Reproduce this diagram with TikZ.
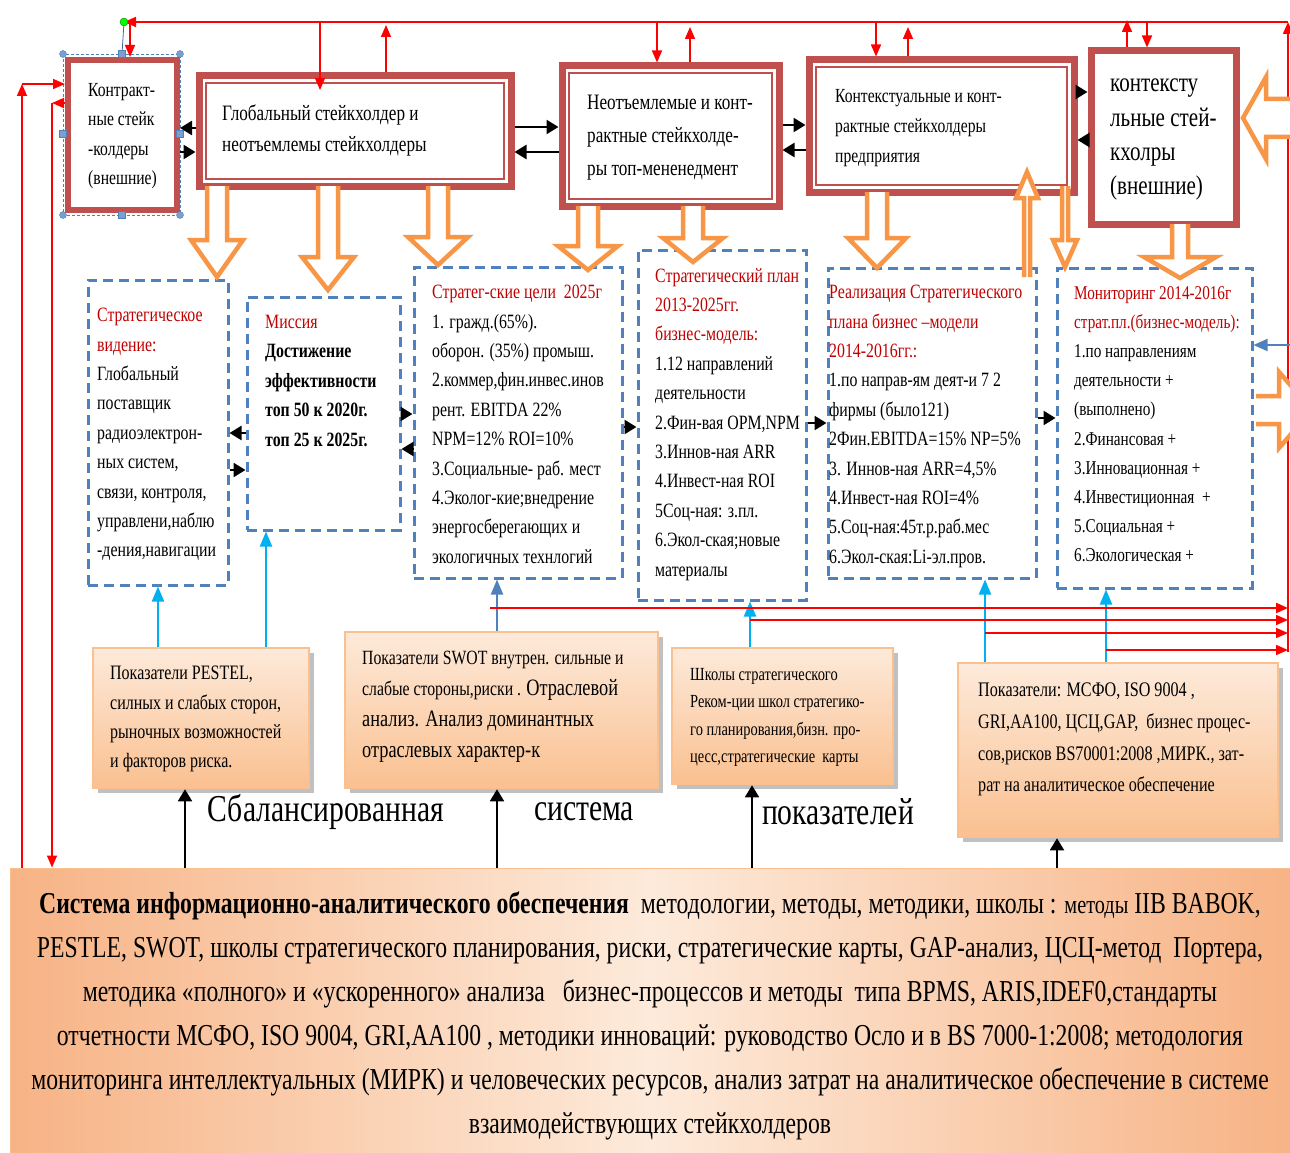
\documentclass[tikz,border=0pt]{standalone}
\usepackage{fontspec}
\setmainfont[FakeStretch=0.78]{Liberation Serif}
\usetikzlibrary{arrows.meta,shadows}

\definecolor{boxred}{HTML}{C0504D}
\definecolor{arrorange}{HTML}{F79646}
\definecolor{dashblue}{HTML}{4F81BD}
\definecolor{skyblue}{HTML}{00B0F0}
\definecolor{titlered}{HTML}{C00000}
\definecolor{pale}{HTML}{FDEADA}
\definecolor{peach}{HTML}{FAC090}
\definecolor{peachedge}{HTML}{F7B385}

\tikzset{
  topbox/.style={draw=boxred, line width=7pt, fill=white},
  dblbox/.style={topbox, path picture={\draw[boxred, line width=2pt]
      ([shift={(7pt,-7pt)}]path picture bounding box.north west) rectangle
      ([shift={(-7pt,7pt)}]path picture bounding box.south east);}},
  planbox/.style={draw=dashblue, line width=3pt, dash pattern=on 10pt off 6pt},
  indbox/.style={draw=peach, line width=2.5pt, top color=pale, bottom color=peach,
      drop shadow={shadow xshift=5pt, shadow yshift=-5pt, opacity=.45, fill=black!55}},
  infobox/.style={draw=peach, line width=1pt, left color=peachedge, right color=peachedge, middle color=pale},
  txt/.style={anchor=north west, inner sep=0pt, align=left},
  ttl/.style={text=titlered},
  blarr/.style={line width=2.5pt, -{Triangle[length=12pt,width=14pt]}},
  redarr/.style={red, line width=1.6pt, -{Triangle[length=12pt,width=10pt]}},
  cyanarr/.style={skyblue, line width=2pt, -{Triangle[length=15pt,width=12pt]}},
  blk/.style={draw=arrorange, line width=4.5pt, fill=white, line join=miter},
}

% x, y start, y head base, y tip, shaft half, head half
\newcommand{\blkv}[6]{\draw[blk] (#1-#5,#2) -- (#1-#5,#3) -- (#1-#6,#3) -- (#1,#4)
  -- (#1+#6,#3) -- (#1+#5,#3) -- (#1+#5,#2);}
% y, x start, x head base, x tip, shaft half, head half
\newcommand{\blkh}[6]{\draw[blk] (#2,#1-#5) -- (#3,#1-#5) -- (#3,#1-#6) -- (#4,#1)
  -- (#3,#1+#6) -- (#3,#1+#5) -- (#2,#1+#5);}

\begin{document}
\begin{tikzpicture}[x=1pt,y=-1pt]
\useasboundingbox (0,0) rectangle (1290,1153);

\coordinate (rtop) at (1288,22);
\coordinate (rbot) at (1288,652);
\coordinate (hook) at (124,22);

% bottom panel
\node[infobox, minimum width=1282pt, minimum height=286pt] (info) at (651,1011) {};
\node[anchor=north, inner sep=0pt, align=center, font={\fontsize{30.4}{44}\selectfont}] (info-t) at (650,892)
  {\textbf{Система информационно-аналитического обеспечения}\ \ методологии, методы, методики, школы : {\fontsize{26}{44}\selectfont методы} IIB BABOK,\\
   PESTLE, SWOT, школы стратегического планирования, риски, стратегические карты, GAP-анализ, ЦСЦ-метод\ \ Портера,\\
   методика «полного» и «ускоренного» анализа\ \ \ бизнес-процессов и методы\ \ типа BPMS, ARIS,IDEF0,стандарты\\
   отчетности МСФО, ISO 9004, GRI,AA100 , методики инноваций: руководство Осло и в BS 7000-1:2008; методология\\
   мониторинга интеллектуальных (МИРК) и человеческих ресурсов, анализ затрат на аналитическое обеспечение в системе\\
   взаимодействующих стейкхолдеров};

% red rails
\draw[redarr] (rbot) -- (rtop);
\draw[redarr] (rtop) -- (hook);
\draw[redarr] (22,0 |- info.north) -- (22,84);
\draw[redarr] (52,103) -- (52,0 |- info.north);

% top row
\node[topbox, line width=6pt, minimum width=109pt, minimum height=150pt] (contr) at (122.5,135) {};
\node[dblbox, minimum width=312pt, minimum height=110pt] (glob) at (355,131) {};
\node[dblbox, minimum width=217pt, minimum height=140pt] (topm) at (670.5,136) {};
\node[dblbox, minimum width=265pt, minimum height=132pt] (ctxt) at (941.5,126) {};
\node[topbox, minimum width=145pt, minimum height=173pt] (extr) at (1163.5,137.5) {};

\node[txt, font={\fontsize{20}{29.5}\selectfont}] (contr-t) at (88,83) {Контракт-\\ные стейк\\-колдеры\\(внешние)};
\node[txt, font={\fontsize{22}{31}\selectfont}] (glob-t) at (222,105) {Глобальный стейкхолдер и\\неотъемлемы стейкхолдеры};
\node[txt, font={\fontsize{22}{33}\selectfont}] (topm-t) at (587,95) {Неотъемлемые и конт-\\рактные стейкхолде-\\ры топ-мененедмент};
\node[txt, font={\fontsize{20}{30}\selectfont}] (ctxt-t) at (835,89) {Контекстуальные и конт-\\рактные стейкхолдеры\\предприятия};
\node[txt, font={\fontsize{27}{34.3}\selectfont}] (extr-t) at (1110,79) {контексту\\льные стей-\\кхолры\\(внешние)};

% selection frame
\draw[dashblue, line width=.6pt, densely dashed] (63,54) rectangle (180,215);
\draw[dashblue!80!black, line width=.8pt] (hook) -- (122,54);
\fill[green, draw=green!50!black] (hook) circle (4);
\foreach \hx/\hy in {63/54,180/54,63/215,180/215}
  \filldraw[fill=dashblue!75, draw=dashblue] (\hx,\hy) circle (3.5);
\foreach \hx/\hy in {122/54,122/215,63/134,180/134}
  \filldraw[fill=dashblue!75, draw=dashblue] (\hx-3.5,\hy-3.5) rectangle (\hx+3.5,\hy+3.5);

% red drops and rises
\draw[redarr] (22,84) -- (contr.west |- 0,84);
\draw[redarr] (contr.west |- 0,103) -- (52,103);
\draw[redarr] (130,0 |- rtop) -- (contr.north -| 130,0);
\draw[redarr] (320,0 |- rtop) -- (320,90);
\draw[redarr] (glob.north -| 386,0) -- (386,25);
\draw[redarr] (657,0 |- rtop) -- (topm.north -| 657,0);
\draw[redarr] (topm.north -| 690,0) -- (690,27);
\draw[redarr] (876,0 |- rtop) -- (ctxt.north -| 876,0);
\draw[redarr] (ctxt.north -| 908,0) -- (908,27);
\draw[redarr] (extr.north -| 1127,0) -- (1127,20);
\draw[redarr] (1147,0 |- rtop) -- (extr.north -| 1147,0);

% black links, top row
\draw[blarr] (glob.west |- 0,128) -- (contr.east |- 0,128);
\draw[blarr] (contr.east |- 0,152) -- (glob.west |- 0,152);
\draw[blarr] (glob.east |- 0,127) -- (topm.west |- 0,127);
\draw[blarr] (topm.west |- 0,152) -- (glob.east |- 0,152);
\draw[blarr] (topm.east |- 0,125) -- (ctxt.west |- 0,125);
\draw[blarr] (ctxt.west |- 0,150) -- (topm.east |- 0,150);
\draw[blarr] (ctxt.east |- 0,92) -- (extr.west |- 0,92);
\draw[blarr] (extr.west |- 0,140) -- (ctxt.east |- 0,140);

% middle row
\node[planbox, minimum width=140pt, minimum height=305pt] (vision) at (158,432.5) {};
\node[planbox, minimum width=153pt, minimum height=233pt] (mission) at (323.5,413.5) {};
\node[planbox, minimum width=208pt, minimum height=311pt] (goals) at (518,422.5) {};
\node[planbox, minimum width=168pt, minimum height=350pt] (plan) at (722,425) {};
\node[planbox, minimum width=208pt, minimum height=310pt] (impl) at (932,423) {};
\node[planbox, minimum width=195pt, minimum height=320pt] (monit) at (1154.5,428) {};

\begin{scope}[every node/.style={font={\fontsize{20.3}{29.4}\selectfont}}]
\node[txt] (vision-t) at (97,308) {\textcolor{titlered}{Стратегическое}\\\textcolor{titlered}{видение:}\\Глобальный\\поставщик\\радиоэлектрон-\\ных систем,\\связи, контроля,\\управлени,наблю\\-дения,навигации};
\node[txt] (mission-t) at (265,315) {\textcolor{titlered}{Миссия}\\\textbf{Достижение}\\\textbf{эффективности}\\\textbf{топ 50 к 2020г.}\\\textbf{топ 25 к 2025г.}};
\node[txt] (goals-t) at (432,285) {\textcolor{titlered}{Стратег-ские цели\ \ 2025г}\\1. гражд.(65\%).\\оборон. (35\%) промыш.\\2.коммер,фин.инвес.инов\\рент. EBITDA 22\%\\NPM=12\% ROI=10\%\\3.Социальные- раб. мест\\4.Эколог-кие;внедрение\\энергосберегающих и\\экологичных технлогий};
\node[txt] (plan-t) at (655,268) {\textcolor{titlered}{Стратегический план}\\\textcolor{titlered}{2013-2025гг.}\\\textcolor{titlered}{бизнес-модель:}\\1.12 направлений\\деятельности\\2.Фин-вая OPM,NPM\\3.Иннов-ная ARR\\4.Инвест-ная ROI\\5Соц-ная: з.пл.\\6.Экол-ская;новые\\материалы};
\node[txt] (impl-t) at (829,285) {\textcolor{titlered}{Реализация Стратегического}\\\textcolor{titlered}{плана бизнес –модели}\\\textcolor{titlered}{2014-2016гг.:}\\1.по направ-ям деят-и 7 2\\фирмы (было121)\\2Фин.EBITDA=15\% NP=5\%\\3. Иннов-ная ARR=4,5\%\\4.Инвест-ная ROI=4\%\\5.Соц-ная:45т.р.раб.мес\\6.Экол-ская:Li-эл.пров.};
\node[txt, font={\fontsize{19.5}{29.2}\selectfont}] (monit-t) at (1074,286) {\textcolor{titlered}{Мониторинг 2014-2016г}\\\textcolor{titlered}{страт.пл.(бизнес-модель):}\\1.по направлениям\\деятельности +\\(выполнено)\\2.Финансовая +\\3.Инновационная +\\4.Инвестиционная\ \ +\\5.Социальная +\\6.Экологическая +};
\end{scope}

% black links, middle row
\draw[blarr] (mission.west |- 0,433) -- (vision.east |- 0,433);
\draw[blarr] (vision.east |- 0,470) -- (mission.west |- 0,470);
\draw[blarr] (mission.east |- 0,414) -- (goals.west |- 0,414);
\draw[blarr] (goals.west |- 0,449) -- (mission.east |- 0,449);
\draw[blarr] (goals.east |- 0,427) -- (plan.west |- 0,427);
\draw[blarr] (plan.east |- 0,423) -- (impl.west |- 0,423);
\draw[blarr] (impl.east |- 0,418) -- (monit.west |- 0,418);

% hollow orange arrows
\blkv{217}{186}{240}{277}{10}{26}
\blkv{328}{186}{257}{290}{10}{26}
\blkv{438}{186}{237}{265}{10}{30}
\blkv{588}{206}{246}{270}{10}{30}
\blkv{693}{206}{238}{262}{10}{30}
\blkv{877}{192}{238}{268}{10}{29}
\blkv{1180}{224}{257}{278}{8}{36}
\blkv{1065}{186}{240}{267}{3}{12}
\blkv{1027}{277}{198}{172}{3}{11}
\blkh{118}{1300}{1266}{1243}{19}{41}
\blkh{410}{1256}{1279}{1312}{14}{38}
\draw[dashblue, line width=2pt, -{Triangle[length=14pt,width=12pt]}] (1292,345) -- (monit.east |- 0,345);

% indicator boxes
\node[indbox, minimum width=216pt, minimum height=140pt] (pestel) at (201,718) {};
\node[indbox, minimum width=313pt, minimum height=156pt] (swot) at (501.5,710) {};
\node[indbox, minimum width=221pt, minimum height=136pt] (schools) at (782.5,716) {};
\node[indbox, minimum width=320pt, minimum height=174pt] (metrics) at (1118,750) {};

\node[txt, font={\fontsize{20.5}{29.3}\selectfont}] (pestel-t) at (110,666) {Показатели PESTEL,\\силных и слабых сторон,\\рыночных возможностей\\и факторов риска.};
\node[txt, font={\fontsize{20.2}{31}\selectfont}] (swot-t) at (362,651) {Показатели SWOT внутрен. сильные и\\слабые стороны,риски . {\fontsize{23.5}{31}\selectfont Отраслевой}\\{\fontsize{23.5}{33}\selectfont анализ. Анализ доминантных}\\{\fontsize{23.5}{35}\selectfont отраслевых характер-к}};
\node[txt, font={\fontsize{18.5}{27.5}\selectfont}] (schools-t) at (690,668) {Школы стратегического\\Реком-ции школ стратегико-\\го планирования,бизн. про-\\цесс,стратегические\ \ карты};
\node[txt, font={\fontsize{20.7}{31.6}\selectfont}] (metrics-t) at (978,683) {Показатели: МСФО, ISO 9004 ,\\GRI,AA100, ЦСЦ,GAP,\ \ бизнес процес-\\сов,рисков BS70001:2008 ,МИРК., зат-\\рат на аналитическое обеспечение};

% blue links up
\draw[cyanarr] (158,0 |- pestel.north) -- (158,0 |- vision.south);
\draw[cyanarr] (266,0 |- pestel.north) -- (266,0 |- mission.south);
\draw[cyanarr, dashblue] (497,0 |- swot.north) -- (497,0 |- goals.south);
\draw[cyanarr] (750,0 |- schools.north) -- (750,0 |- plan.south);
\draw[cyanarr] (985,0 |- metrics.north) -- (985,0 |- impl.south);
\draw[cyanarr] (1106,0 |- metrics.north) -- (1106,0 |- monit.south);

% red feeds to the right rail
\draw[redarr, line width=2.2pt] (490,608) -- (rtop |- 0,608);
\draw[redarr] (750,620) -- (rtop |- 0,620);
\draw[redarr] (985,633) -- (rtop |- 0,633);
\draw[redarr] (1106,650) -- (rtop |- 0,650);

% black links up from the panel
\draw[blarr, line width=1.8pt] (185,0 |- info.north) -- (185,0 |- pestel.south);
\draw[blarr, line width=1.8pt] (497,0 |- info.north) -- (497,0 |- swot.south);
\draw[blarr, line width=1.8pt] (752,0 |- info.north) -- (752,0 |- schools.south);
\draw[blarr, line width=1.8pt] (1057,0 |- info.north) -- (1057,0 |- metrics.south);

% caption words
\node[font={\fontsize{38}{40}\selectfont}, inner sep=0pt] (cap1) at (326,812) {Сбалансированная};
\node[font={\fontsize{38}{40}\selectfont}, inner sep=0pt] (cap2) at (584,812) {система};
\node[font={\fontsize{38}{40}\selectfont}, inner sep=0pt] (cap3) at (838,812) {показателей};
\end{tikzpicture}
\end{document}
